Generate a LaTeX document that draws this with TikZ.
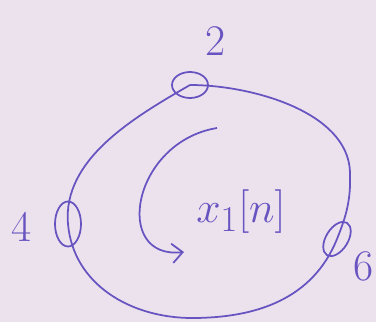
\documentclass[tikz,border=0pt]{standalone}
\usetikzlibrary{shapes.geometric,arrows.meta}
\definecolor{paper}{RGB}{236,226,238}
\definecolor{ink}{RGB}{104,84,192}
\begin{document}
\begin{tikzpicture}[
    x=0.02cm, y=0.02cm,
    sample/.style={ellipse, draw=ink, line width=1pt, inner sep=0pt},
    digit/.style={text=ink, font=\Huge},
    ring/.style={draw=ink, line width=1pt},
    turn/.style={draw=ink, line width=1pt, -{Straight Barb[length=6pt,width=11pt,line width=1pt]}}
]

% ==================== PAPER ====================
\fill[paper] (0,0) rectangle (376,322);
\useasboundingbox (0,0) rectangle (376,322);

% ==================== SAMPLE POSITIONS ====================
\node[sample, minimum width=0.72cm, minimum height=0.52cm] (s0) at (190,237) {};
\node[sample, minimum width=0.52cm, minimum height=0.90cm] (s1) at (68,98) {};
\node[sample, minimum width=0.76cm, minimum height=0.44cm, rotate=58] (s2) at (337,83) {};

\node[digit] (v0) at (216,281) {2};
\node[digit] (v1) at (22,95) {4};
\node[digit] (v2) at (364,56) {6};

\node[text=ink, font=\fontsize{28}{30}\selectfont] (seq) at (241,110) {$x_1[n]$};

% ==================== RING ====================
\coordinate (east) at (350,150);
\coordinate (south) at (192,4);
\draw[ring] (s0.center) to[out=0,in=92,looseness=0.85] (east) to[out=-88,in=68] (s2.center)
    to[out=-112,in=0] (south) to[out=180,in=-85] (s1.center)
    to[out=95,in=-150,looseness=0.9] (s0.center);

% ==================== DIRECTION ====================
\coordinate (a0) at (217,194);
\coordinate (a1) at (184,70);
\draw[turn] (a0) .. controls (132,180) and (112,62) .. (a1);

\end{tikzpicture}
\end{document}
